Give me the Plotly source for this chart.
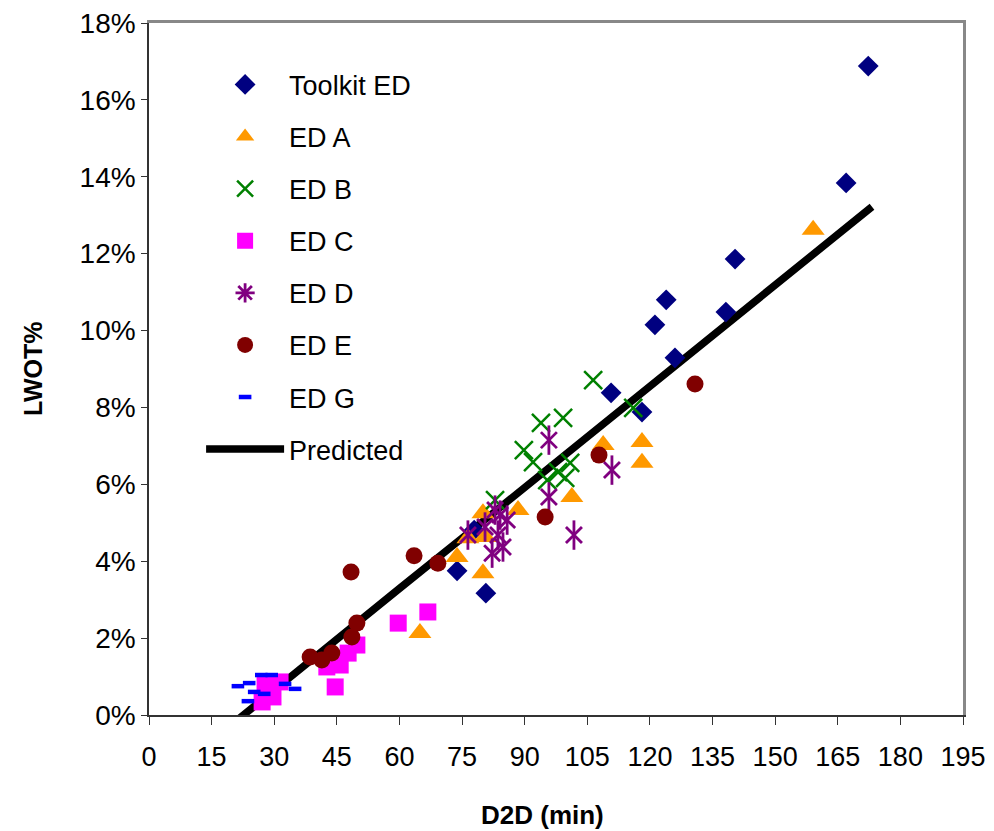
import plotly.graph_objects as go

# ---------------- data ----------------
toolkit_x = [172.3, 167.0, 140.4, 138.2, 123.9, 121.2, 126.0, 110.7, 118.1, 73.8, 80.7, 77.9]
toolkit_y = [16.88, 13.84, 11.86, 10.48, 10.80, 10.15, 9.29, 8.38, 7.88, 3.75, 3.17, 4.81]

edA_x = [159.1, 108.8, 118.1, 118.1, 101.3, 88.4, 80.0, 76.4, 80.5, 73.8, 80.0, 64.9]
edA_y = [12.62, 7.02, 7.10, 6.56, 5.67, 5.33, 5.25, 4.60, 4.63, 4.11, 3.69, 2.13]

edB_x = [93.9, 99.2, 89.8, 92.0, 100.9, 95.4, 98.0, 99.7, 82.9, 116.0, 106.4]
edB_y = [7.60, 7.73, 6.89, 6.58, 6.56, 6.11, 6.32, 6.17, 5.59, 7.99, 8.71]

edC_x = [66.8, 59.7, 44.6, 49.8, 47.7, 45.8, 42.6, 27.8, 31.4, 27.1, 29.7]
edC_y = [2.68, 2.39, 0.73, 1.82, 1.61, 1.30, 1.25, 0.78, 0.86, 0.34, 0.47]

edD_x = [95.8, 110.9, 95.8, 101.8, 76.4, 80.5, 84.1, 85.8, 83.6, 84.8, 82.2, 82.9]
edD_y = [7.15, 6.37, 5.67, 4.68, 4.68, 4.89, 5.20, 5.07, 4.68, 4.37, 4.21, 5.33]

edE_x = [130.8, 107.8, 94.9, 69.2, 63.5, 48.4, 49.8, 48.6, 38.6, 41.4, 43.8]
edE_y = [8.61, 6.76, 5.15, 3.95, 4.14, 3.72, 2.39, 2.03, 1.51, 1.43, 1.61]

edG_x = [26.9, 29.4, 21.3, 24.0, 25.2, 27.6, 23.7, 32.6, 35.0]
edG_y = [1.04, 1.04, 0.75, 0.83, 0.60, 0.55, 0.36, 0.81, 0.68]

pred_x = [21.5, 30, 45, 60, 75, 90, 105, 120, 135, 150, 165, 173.2]
pred_y = [-0.10, 0.66, 1.98, 3.29, 4.60, 5.92, 7.24, 8.55, 9.87, 11.18, 12.50, 13.22]

x_ticks = list(range(0, 196, 15))
y_ticks = list(range(0, 19, 2))

FONT = "Liberation Sans, Arial, sans-serif"

fig = go.Figure()

# Predicted line first so markers sit on top of it; ranked last in legend
fig.add_trace(go.Scatter(
    x=pred_x, y=pred_y, mode="lines", name="Predicted",
    line=dict(color="black", width=7.5), legendgroup="P", legendrank=2000))

def add_pts(x, y, name, symbol, color, size, lw=0, group=None, show=True):
    fig.add_trace(go.Scatter(
        x=x, y=y, mode="markers", name=name, showlegend=show,
        legendgroup=group or name, cliponaxis=False,
        marker=dict(symbol=symbol, color=color, size=size,
                    line=dict(color=color, width=lw))))

add_pts(toolkit_x, toolkit_y, "Toolkit ED", "diamond", "#000080", 16)
add_pts(edA_x, edA_y, "ED A", "triangle-up", "#FF9900", 20)
add_pts(edB_x, edB_y, "ED B", "x-thin", "#008000", 18, lw=2.5)
add_pts(edC_x, edC_y, "ED C", "square", "#FF00FF", 17)
# ED D : asterisk = x + vertical stroke
add_pts(edD_x, edD_y, "ED D", "x-thin", "#800080", 16, lw=2.8, group="ED D", show=False)
add_pts(edD_x, edD_y, "ED D", "line-ns", "#800080", 21, lw=2.8, group="ED D", show=False)
fig.add_trace(go.Scatter(x=[None], y=[None], mode="markers", name="ED D", legendgroup="ED D",
                         marker=dict(symbol="asterisk", color="#800080", size=16,
                                     line=dict(color="#800080", width=2.8))))
add_pts(edE_x, edE_y, "ED E", "circle", "#800000", 17)
add_pts(edG_x, edG_y, "ED G", "line-ew", "#0000FF", 9, lw=4.5)

# helper trace so the grey top/right frame axes are drawn
fig.add_trace(go.Scatter(x=[None], y=[None], xaxis="x2", yaxis="y2",
                         showlegend=False, hoverinfo="skip"))

fig.update_layout(
    width=986, height=823,
    margin=dict(l=141, r=31, t=15, b=116, autoexpand=False),
    paper_bgcolor="white", plot_bgcolor="white",
    font=dict(family=FONT, size=26, color="black"),
    showlegend=True,
    legend=dict(x=0.064, y=0.946, xanchor="left", yanchor="top",
                bgcolor="rgba(0,0,0,0)", borderwidth=0,
                font=dict(family=FONT, size=27, color="black"),
                itemwidth=78, tracegroupgap=14, itemsizing="trace"),
    xaxis=dict(range=[0, 195], tickvals=x_ticks, ticktext=[str(v) for v in x_ticks],
               showgrid=False, zeroline=False, showline=True, linecolor="#333333",
               linewidth=1.5, ticks="outside", ticklen=8, tickcolor="#333333",
               tickwidth=1.2, ticklabelstandoff=9, automargin=False,
               ticklabeloverflow="allow",
               tickfont=dict(family=FONT, size=27)),
    yaxis=dict(range=[0, 18], tickvals=y_ticks, ticktext=[f"{v}%" for v in y_ticks],
               showgrid=False, zeroline=False, showline=True, linecolor="#333333",
               linewidth=1.5, ticks="outside", ticklen=6, tickcolor="#333333",
               tickwidth=1.2, automargin=False, ticklabeloverflow="allow",
               tickfont=dict(family=FONT, size=28)),
    xaxis2=dict(overlaying="x", side="top", range=[0, 195], showline=True,
                linecolor="#888888", linewidth=2.5, showgrid=False, zeroline=False,
                showticklabels=False, ticks="", automargin=False),
    yaxis2=dict(overlaying="y", side="right", range=[0, 18], showline=True,
                linecolor="#888888", linewidth=2.5, showgrid=False, zeroline=False,
                showticklabels=False, ticks="", automargin=False),
    annotations=[
        dict(text="<b>LWOT%</b>", xref="paper", yref="paper", x=-0.1425, y=0.5,
             xanchor="center", yanchor="middle",
             textangle=-90, showarrow=False, font=dict(family=FONT, size=25)),
        dict(text="<b>D2D (min)</b>", xref="paper", yref="paper", x=0.484, y=-0.1445,
             xanchor="center", yanchor="middle",
             showarrow=False, font=dict(family=FONT, size=26)),
    ],
)

fig.write_html("out.html")
